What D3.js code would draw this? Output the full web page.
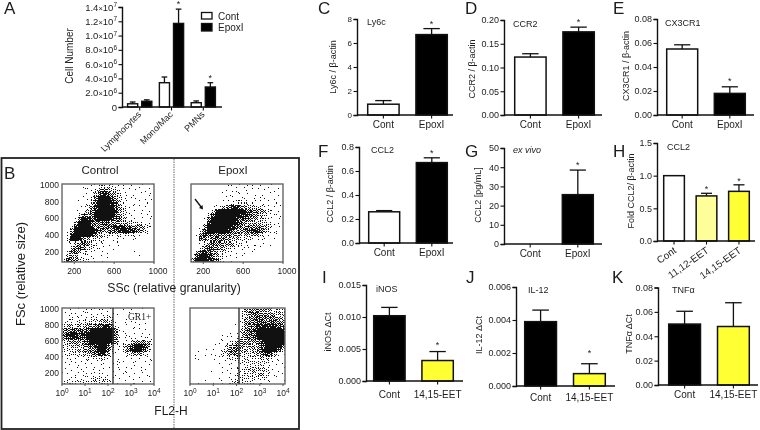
<!DOCTYPE html>
<html><head><meta charset="utf-8">
<script src="https://cdn.jsdelivr.net/npm/d3@7"></script>
<style>
html,body{margin:0;padding:0;background:#fff;}
svg{display:block;font-family:"Liberation Sans",Arial,sans-serif;filter:blur(0.3px);}
text{fill:#1c1c1c;}
</style></head><body>
<svg id="c" width="760" height="430"></svg>
<script>
// ---------- data ----------
const aGroups = ["Lymphocytes","Mono/Mac","PMNs"];
const aCont = [0.45e6,3.4e6,0.6e6];
const aEpoxI = [0.8e6,11.7e6,2.8e6];
const aContErr = [0.7e6,4.2e6,0.85e6];
const aEpoxIErr = [1.0e6,13.7e6,3.4e6];
const aTicks = [0,2e6,4e6,6e6,8e6,1e7,1.2e7,1.4e7];
const aTickMant = ["0","2.0","4.0","6.0","8.0","1.0","1.2","1.4"];
const aTickExp = ["","6","6","6","6","7","7","7"];

const contEpox = ["Cont","EpoxI"];
const contEet = ["Cont","14,15-EET"];
const hCats = ["Cont","11,12-EET","14,15-EET"];

const ly6cVals=[0.9,6.7], ly6cTops=[1.2,7.2], ly6cTicks=[0,2,4,6,8];
const ccr2Vals=[0.122,0.175], ccr2Tops=[0.129,0.185], ccr2Ticks=[0,0.05,0.10,0.15,0.20];
const cx3Vals=[0.055,0.018], cx3Tops=[0.0585,0.0235], cx3Ticks=[0,0.02,0.04,0.06,0.08];
const ccl2Vals=[0.26,0.67], ccl2Tops=[0.27,0.71], ccl2Ticks=[0,0.2,0.4,0.6,0.8];
const exVivoVals=[0,25.7], exVivoTops=[0,38.5], exVivoTicks=[0,10,20,30,40,50];
const foldVals=[1.0,0.69,0.76], foldTops=[1.0,0.73,0.86], foldTicks=[0,0.5,1.0,1.5];
const inosVals=[0.0102,0.0032], inosTops=[0.0115,0.0046], inosTicks=[0,0.005,0.010,0.015];
const il12Vals=[0.0039,0.00075], il12Tops=[0.0046,0.00135], il12Ticks=[0,0.002,0.004,0.006];
const tnfVals=[0.05,0.048], tnfTops=[0.0605,0.0675], tnfTicks=[0,0.02,0.04,0.06,0.08];

const fscTicks=[200,400,600,800,1000];
const sscTicks=[200,600,1000];
const fl2Exps=[0,1,2,3,4];

// dot density (0-9) read cell by cell, top row first
const controlSsc=[
"00000111233332211211110",
"00000112356543221111111",
"00000122478754321111111",
"00000123699975321111111",
"00001124799986422111111",
"00001235899997532111110",
"00011246899998532111111",
"00013656999997532111111",
"00027987899986642221111",
"00159997667755544333221",
"00389998566778887665431",
"01599999865567898876421",
"02899998643333333322110",
"03998543332211111111000",
"01245763322111100000000",
"01467633221111000000000",
"03674322211110000010000",
"04542222111100000001000",
"38653332111000000000000"];
const epoxISsc=[
"00000000111222211211110",
"00000001111111111111110",
"00000001111111111111110",
"00000000111111111111110",
"00000001123333222211111",
"00000123468865443321111",
"00001389999998766543211",
"00003799999988765432211",
"00016999999877654432111",
"00028999999875444433211",
"00159999998765666653211",
"00379999987556788753111",
"01687676665544455322110",
"01764676654433322211100",
"00235766554332221111000",
"01357765433222111110000",
"04787543322211110100000",
"27998643221111000010000",
"59998873211100000000000"];
const controlFl2=[
"01211122211220011110100",
"12222222222221001110000",
"12322223323331011000000",
"12223333344431111110100",
"34434455678862111111100",
"56677679999996211111110",
"68987899999996211111110",
"57887799999996222222221",
"34554679999985222455642",
"33444567899741245799862",
"33334556799731236899741",
"23333445688521123455321",
"22222233333211111212111",
"11222222222111211111111",
"11111111121111211111010",
"11212111112111211111110",
"11112222222111111111110",
"12122223333210111111010",
"33333333434321111111111"];
const epoxIFl2=[
"000000000000134555554333",
"000000000000134676555444",
"000000000000134677666654",
"000000000000135667767765",
"000000000001135678888876",
"000000000001246789999998",
"000000001111256779999999",
"000000011122356679999999",
"000000111234555556899999",
"000001112456654545799997",
"011111113567644446899974",
"011111123456533345687421",
"011001112333333333443221",
"000000111122333333332111",
"000001011112223333322111",
"000001101122333444432110",
"000000001123333334432111",
"000000011122333333321100",
"111111112234433322221101"];
const densityDots=[0,0.5,1,3,5,7,9,11,14,16];

// ---------- helpers ----------
const svg=d3.select("#c");
const ink="#111";
const t=(x,y,s,size,o={})=>{
  const n=svg.append("text").attr("x",x).attr("y",y).attr("font-size",size).text(s);
  if(o.anchor)n.attr("text-anchor",o.anchor);
  if(o.rot!==undefined)n.attr("transform",`rotate(${o.rot},${x},${y})`);
  if(o.italic)n.attr("font-style","italic");
  if(o.font)n.attr("font-family",o.font);
  return n;
};
const ylabel=(x,y,s,size)=>t(x,y,s,size,{anchor:"middle",rot:-90});

function styleAxis(g,w){
  g.selectAll("path.domain").attr("stroke",ink).attr("stroke-width",w);
  g.selectAll(".tick line").attr("stroke",ink).attr("stroke-width",w*0.8);
}

function barPanel(p){
  const y=d3.scaleLinear().domain([0,p.ticks[p.ticks.length-1]]).range([p.y0,p.yT]);
  const x=d3.scaleBand().domain(p.cats).range([p.barL,p.barR]).paddingInner(p.pad);
  const ax=svg.append("g").attr("transform",`translate(${p.x0},0)`)
    .call(d3.axisLeft(y).tickValues(p.ticks).tickSize(3.5).tickPadding(1.5).tickFormat(d3.format(p.fmt)));
  styleAxis(ax,1.4);
  ax.selectAll("text").attr("font-size",p.tickSize||9).attr("font-family",null).style("fill","#1c1c1c");
  p.cats.forEach((c,i)=>{
    const bx=x(c),bw=x.bandwidth(),cx=bx+bw/2;
    if(p.vals[i]>0){
      if(p.tops[i]>p.vals[i]){
        svg.append("line").attr("x1",cx).attr("x2",cx).attr("y1",y(p.vals[i])).attr("y2",y(p.tops[i])).attr("stroke",ink).attr("stroke-width",1.3);
        svg.append("line").attr("x1",cx-bw/4).attr("x2",cx+bw/4).attr("y1",y(p.tops[i])).attr("y2",y(p.tops[i])).attr("stroke",ink).attr("stroke-width",1.3);
      }
      svg.append("rect").attr("x",bx+.7).attr("width",bw-1.4).attr("y",y(p.vals[i])).attr("height",p.y0-y(p.vals[i]))
        .attr("fill",p.fills[i]).attr("stroke",ink).attr("stroke-width",1.5);
    }
  });
  const xax=svg.append("g").attr("transform",`translate(0,${p.y0})`);
  xax.append("line").attr("x1",p.x0).attr("x2",p.xR).attr("stroke",ink).attr("stroke-width",1.5);
  p.cats.forEach((c,i)=>{
    const cx=x(c)+x.bandwidth()/2;
    xax.append("line").attr("x1",cx).attr("x2",cx).attr("y1",0).attr("y2",3.5).attr("stroke",ink).attr("stroke-width",1.1);
    if(p.rot){ t(cx+3,p.y0+11,c,10,{anchor:"end",rot:p.rot}); }
    else { t(cx,p.y0+p.labelDy,c,10,{anchor:"middle"}); }
    if(p.stars[i]) t(cx,y(p.tops[i])-p.starGap+4,"*",9,{anchor:"middle"});
  });
  t(p.titleX,p.titleY,p.title,9,{italic:p.italic});
  ylabel(p.labelX,p.labelY,p.label,p.labelSize||9);
}

const W="#fff",K="#000",Y="#ffff33",LY="#ffff99";

// panel A
(function(){
  const x0=122,y0=107,yT=7;
  const y=d3.scaleLinear().domain([0,1.4e7]).range([y0,yT]);
  const gx=d3.scaleBand().domain(aGroups).range([127,216]).paddingInner(0.2);
  const ax=svg.append("g").attr("transform",`translate(${x0},0)`)
    .call(d3.axisLeft(y).tickValues(aTicks).tickSize(3.5).tickFormat(""));
  styleAxis(ax,1.4);
  aTicks.forEach((v,i)=>{
    const n=t(117,y(v)+3.5,"",9.5,{anchor:"end"});
    n.append("tspan").text(aTickMant[i]);
    if(aTickExp[i]){
      n.append("tspan").attr("font-size",7.5).text("×");
      n.append("tspan").text("10");
      n.append("tspan").attr("font-size",6.5).attr("dy",-3.5).text(aTickExp[i]);
    }
  });
  const series=[[aCont,aContErr,W],[aEpoxI,aEpoxIErr,K]];
  aGroups.forEach((g,i)=>{
    const inner=d3.scaleBand().domain([0,1]).range([gx(g),gx(g)+gx.bandwidth()]).paddingInner(0.2);
    series.forEach((s,j)=>{
      const bx=inner(j),bw=inner.bandwidth(),cx=bx+bw/2;
      svg.append("line").attr("x1",cx).attr("x2",cx).attr("y1",y(s[0][i])).attr("y2",y(s[1][i])).attr("stroke",ink).attr("stroke-width",1.3);
      svg.append("line").attr("x1",cx-bw/4).attr("x2",cx+bw/4).attr("y1",y(s[1][i])).attr("y2",y(s[1][i])).attr("stroke",ink).attr("stroke-width",1.3);
      svg.append("rect").attr("x",bx+.6).attr("width",bw-1.2).attr("y",y(s[0][i])).attr("height",y0-y(s[0][i]))
        .attr("fill",s[2]).attr("stroke",ink).attr("stroke-width",1.4);
      if(j===1&&i>0) t(cx,y(s[1][i])-6+4,"*",9,{anchor:"middle"});
    });
    const c=gx(g)+gx.bandwidth()/2;
    svg.append("line").attr("x1",c).attr("x2",c).attr("y1",y0).attr("y2",y0+3.5).attr("stroke",ink).attr("stroke-width",1.1);
    t(c+2,y0+8,g,9,{anchor:"end",rot:-45});
  });
  svg.append("line").attr("x1",x0).attr("x2",222).attr("y1",y0).attr("y2",y0).attr("stroke",ink).attr("stroke-width",1.5);
  ylabel(73,56,"Cell Number",10);
  contEpox.forEach((c,i)=>{
    svg.append("rect").attr("x",201.5).attr("y",12.5+i*11).attr("width",10.5).attr("height",i?7.5:6.5).attr("fill",i?K:W).attr("stroke",ink).attr("stroke-width",1.3);
    t(218,19.5+i*11.5,c,10);
  });
})();

// panels C-K
const panels=[
 {cats:contEpox,vals:ly6cVals,tops:ly6cTops,ticks:ly6cTicks,fmt:"d",fills:[W,K],stars:[0,1],x0:357,xR:453,y0:115,yT:19,barL:367,barR:448,pad:.32,labelDy:13,starGap:6,title:"Ly6c",titleX:367,titleY:25,label:"Ly6c / β-actin",labelX:336,labelY:67,tickSize:8},
 {cats:contEpox,vals:ccr2Vals,tops:ccr2Tops,ticks:ccr2Ticks,fmt:".2f",fills:[W,K],stars:[0,1],x0:504,xR:602,y0:115,yT:20,barL:514,barR:595,pad:.32,labelDy:13,starGap:6,title:"CCR2",titleX:513,titleY:27,label:"CCR2 / β-actin",labelX:475,labelY:69},
 {cats:contEpox,vals:cx3Vals,tops:cx3Tops,ticks:cx3Ticks,fmt:".2f",fills:[W,K],stars:[0,1],x0:657,xR:754,y0:115,yT:19,barL:666,barR:746,pad:.32,labelDy:13,starGap:7,title:"CX3CR1",titleX:665,titleY:26,label:"CX3CR1 / β-actin",labelX:629,labelY:66},
 {cats:contEpox,vals:ccl2Vals,tops:ccl2Tops,ticks:ccl2Ticks,fmt:".1f",fills:[W,K],stars:[0,1],x0:359,xR:453,y0:243,yT:147,barL:368,barR:448,pad:.32,labelDy:13,starGap:6,title:"CCL2",titleX:371,titleY:153,label:"CCL2 / β-actin",labelX:333,labelY:194},
 {cats:contEpox,vals:exVivoVals,tops:exVivoTops,ticks:exVivoTicks,fmt:"d",fills:[W,K],stars:[0,1],x0:504,xR:602,y0:244,yT:148,barL:514,barR:594,pad:.32,labelDy:13,starGap:6,title:"ex vivo",italic:true,titleX:513,titleY:153,label:"CCL2 [pg/mL]",labelX:481,labelY:195},
 {cats:hCats,vals:foldVals,tops:foldTops,ticks:foldTicks,fmt:".1f",fills:[W,LY,Y],stars:[0,1,1],x0:657,xR:755,y0:241,yT:143,barL:663,barR:750,pad:.32,rot:-35,starGap:5,title:"CCL2",titleX:667,titleY:150,label:"Fold CCL2/ β-actin",labelX:634,labelY:191},
 {cats:contEet,vals:inosVals,tops:inosTops,ticks:inosTicks,fmt:".3f",fills:[K,Y],stars:[0,1],x0:366,xR:463,y0:381,yT:285,barL:373,barR:454,pad:.32,labelDy:17,starGap:8,title:"iNOS",titleX:376,titleY:292,label:"iNOS ΔCt",labelX:331,labelY:332},
 {cats:contEet,vals:il12Vals,tops:il12Tops,ticks:il12Ticks,fmt:".3f",fills:[K,Y],stars:[0,1],x0:516,xR:615,y0:386,yT:287,barL:524,barR:606,pad:.32,labelDy:15,starGap:12,title:"IL-12",titleX:528,titleY:293,label:"IL-12 ΔCt",labelX:482,labelY:335},
 {cats:contEet,vals:tnfVals,tops:tnfTops,ticks:tnfTicks,fmt:".2f",fills:[K,Y],stars:[0,0],x0:658,xR:758,y0:385,yT:287.5,barL:668,barR:750,pad:.32,labelDy:13,starGap:6,title:"TNFα",titleX:672,titleY:293,label:"TNFα ΔCt",labelX:632,labelY:334}
];
panels.forEach(barPanel);

// panel letters
[["A",4,14],["C",318,14],["D",465,14],["E",613,14],["F",318,157],["G",465,157],["H",613,157],["I",322,283],["J",466,283],["K",612,283]]
  .forEach(d=>t(d[1],d[2],d[0],17));

// panel B frame
svg.append("rect").attr("x",1.5).attr("y",158).attr("width",297.5).attr("height",271).attr("fill","none").attr("stroke","#222").attr("stroke-width",1.8);
svg.append("line").attr("x1",174).attr("x2",174).attr("y1",159).attr("y2",428).attr("stroke","#555").attr("stroke-width",.9).attr("stroke-dasharray","1.5,1");
t(4,179,"B",17);
t(100,174,"Control",11.5,{anchor:"middle"});
t(233,174,"EpoxI",11.5,{anchor:"middle"});
ylabel(25,274,"FSc (relative size)",13);
t(174,292,"SSc (relative granularity)",12.2,{anchor:"middle"});
t(171,415,"FL2-H",12,{anchor:"middle"});

const bayer=[0,8,2,10,12,4,14,6,3,11,1,9,15,7,13,5];
function scatter(rows,x0,x1,y0,y1){
  const cols=d3.range(rows[0].length), rs=d3.range(rows.length);
  const bx=d3.scaleBand().domain(cols).range([x0,x1]);
  const by=d3.scaleBand().domain(rs).range([y0,y1]);
  let path="";
  rs.forEach(r=>cols.forEach(c=>{
    const want=densityDots[+rows[r][c]];
    const n=want===0.5?((r*7+c*3)%5<3?1:0):want;
    const off=(r*r*3+c*c*5+r*c*7)%16;   // fixed slot shift so cells do not line up
    for(let b=0;b<16;b++){
      if(bayer[b]<n){
        const s=(b+off)%16, sc=s%4, sr=s>>2;
        const qw=bx.bandwidth()/4, qh=by.bandwidth()/4;
        const px=Math.round(bx(c)+sc*qw), py=Math.round(by(r)+sr*qh);
        const pw=Math.round(bx(c)+(sc+1)*qw)-px, ph=Math.round(by(r)+(sr+1)*qh)-py;
        path+=`M${px} ${py}h${pw}v${ph}h${-pw}z`;
      }
    }
  }));
  svg.append("path").attr("d",path).attr("fill","#111");
  svg.append("rect").attr("x",x0).attr("y",y0).attr("width",x1-x0).attr("height",y1-y0).attr("fill","none").attr("stroke","#666").attr("stroke-width",1.4);
}

// top row: FSc vs SSc
[[controlSsc,62,154,true],[epoxISsc,191,283,false]].forEach(([rows,a,b,showY])=>{
  const sx=d3.scaleLinear().domain([77,1000]).range([a,b]);
  const sy=d3.scaleLinear().domain([80,1000]).range([262,185]);
  scatter(rows,a,b,184,262);
  sscTicks.forEach(v=>{
    svg.append("line").attr("x1",sx(v)).attr("x2",sx(v)).attr("y1",262).attr("y2",264).attr("stroke","#555");
    t(sx(v)+(v===1000?4:0),274,String(v),8.5,{anchor:"middle"});
  });
  if(showY) fscTicks.forEach(v=>t(a-3,sy(v)+3,String(v),8.5,{anchor:"end"}));
});
// arrow in EpoxI
svg.append("line").attr("x1",195).attr("y1",199).attr("x2",201.5).attr("y2",207.5).attr("stroke","#111").attr("stroke-width",1.3);
svg.append("path").attr("d",d3.line()([[199,208],[203,209.5],[202.5,205]])).attr("fill","#111");

// bottom row: FSc vs FL2-H
[[controlFl2,62,154,true,113],[epoxIFl2,190,285,false,239]].forEach(([rows,a,b,showY,gate])=>{
  const sx=d3.scaleLog().domain([1,1e4]).range([a,b-(showY?0:2)]);
  const sy=d3.scaleLinear().domain([62,1000]).range([384,309]);
  scatter(rows,a,b,308,384);
  svg.append("line").attr("x1",gate).attr("x2",gate).attr("y1",308).attr("y2",384).attr("stroke","#333").attr("stroke-width",1.4);
  fl2Exps.forEach(e=>{
    const v=Math.pow(10,e);
    svg.append("line").attr("x1",sx(v)).attr("x2",sx(v)).attr("y1",384).attr("y2",386).attr("stroke","#555");
    const n=t(sx(v),396,"",8.5,{anchor:"middle"});
    n.append("tspan").text("10");
    n.append("tspan").attr("font-size",6.5).attr("dy",-3).text(String(e));
  });
  if(showY) fscTicks.forEach(v=>t(a-3,sy(v)+3,String(v),8.5,{anchor:"end"}));
});
t(128,320,"GR1+",9.5,{font:"Liberation Serif"});
</script>
</body></html>
